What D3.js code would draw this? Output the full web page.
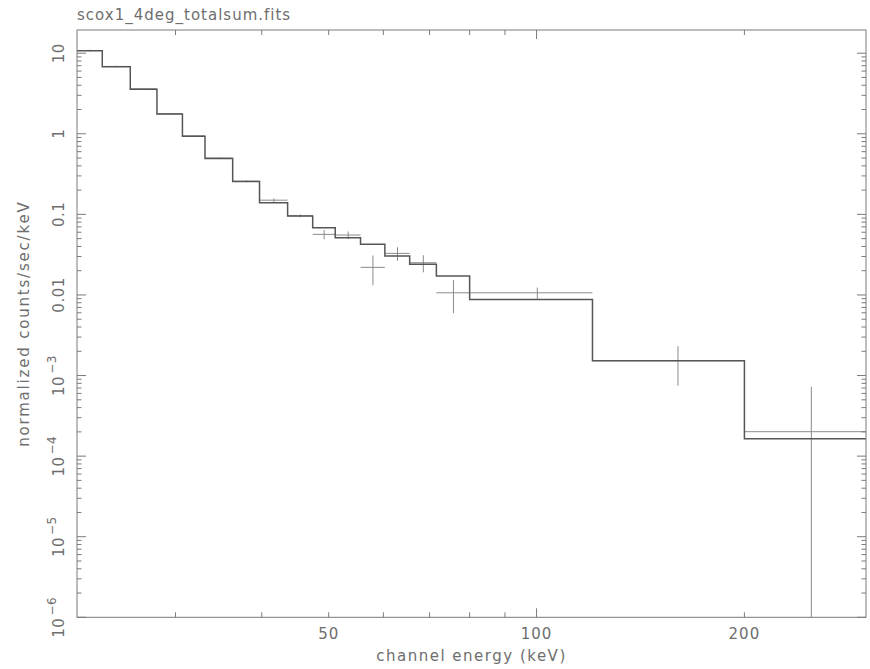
<!DOCTYPE html>
<html>
<head>
<meta charset="utf-8">
<script src="https://cdn.jsdelivr.net/npm/d3@7/dist/d3.min.js"></script>
<style>
  html, body { margin: 0; padding: 0; background: #fff; }
  svg { display: block; }
  text { font-family: "DejaVu Sans", sans-serif; fill: #6e6e6e; }
</style>
</head>
<body>
<svg id="chart" width="870" height="669"></svg>
<script>
// Spectrum: channel bin edges (keV), folded model and measured rates
const binEdges = [21.6, 23.5, 25.8, 28.2, 30.7, 33.1, 36.3, 39.7, 43.6, 47.4,
                  51.1, 55.6, 60.3, 65.5, 71.6, 80.0, 120.5, 200, 300];
const modelValues = [10.7, 6.78, 3.56, 1.755, 0.929, 0.495, 0.256, 0.139, 0.0953,
                     0.0683, 0.0513, 0.0425, 0.0304, 0.0240, 0.0172, 0.00881,
                     0.00153, 0.000164];
const dataValues = [10.8, 6.85, 3.60, 1.77, 0.940, 0.500, 0.258, 0.150, 0.0960,
                    0.0565, 0.0554, 0.0220, 0.0328, 0.0251, 0.01064, 0.01064,
                    0.00153, 0.000201];
const dataErrors = [0.25, 0.15, 0.08, 0.04, 0.022, 0.012, 0.007, 0.008, 0.004,
                    0.0074, 0.006, 0.0088, 0.0063, 0.006, 0.0047, 0.0017,
                    0.00078, 0.000525];

// Axis ticks and labels
const xMinorTicks = [30, 40, 50, 60, 70, 80, 90, 200];
const xMajorTicks = [100];
const xTickLabels = [50, 100, 200];
const yDecades = [-6, -5, -4, -3, -2, -1, 0, 1];
const yTickLabels = ["10^-6", "10^-5", "10^-4", "10^-3", "0.01", "0.1", "1", "10"];

const titleText = "scox1_4deg_totalsum.fits";
const xTitle = "channel energy (keV)";
const yTitle = "normalized counts/sec/keV";

const svg = d3.select("#chart");
const pLeft = 77, pRight = 866, pTop = 30, pBottom = 617.3;

const x = d3.scaleLog().domain([21.6, 300]).range([pLeft, pRight]);
const y = d3.scaleLog().domain([1e-6, 19.4]).range([pBottom, pTop]);

const frameColor = "#7a7a7a";

svg.append("clipPath").attr("id", "plotArea")
  .append("rect").attr("x", pLeft).attr("y", pTop)
  .attr("width", pRight - pLeft).attr("height", pBottom - pTop);

// Bins as records
const bins = modelValues.map((m, i) => ({
  lo: binEdges[i], hi: binEdges[i + 1], model: m,
  data: dataValues[i], err: dataErrors[i]
}));

const plot = svg.append("g").attr("clip-path", "url(#plotArea)");

// Data: horizontal bar over bin width + vertical error bar at bin centre
const dataG = plot.append("g").attr("stroke", "#8a8a8a").attr("stroke-width", 1).attr("fill", "none");
dataG.selectAll("line.h").data(bins).join("line").attr("class", "h")
  .attr("x1", d => x(d.lo)).attr("x2", d => x(d.hi))
  .attr("y1", d => y(d.data)).attr("y2", d => y(d.data));
dataG.selectAll("line.v").data(bins).join("line").attr("class", "v")
  .attr("x1", d => x((d.lo + d.hi) / 2)).attr("x2", d => x((d.lo + d.hi) / 2))
  .attr("y1", d => y(d.data + d.err))
  .attr("y2", d => (d.data - d.err) > 0 ? y(d.data - d.err) : pBottom + 5);

// Model: stepped histogram
const stepPts = [];
bins.forEach(d => { stepPts.push([d.lo, d.model]); stepPts.push([d.hi, d.model]); });
plot.append("path")
  .datum(stepPts)
  .attr("fill", "none").attr("stroke", "#555").attr("stroke-width", 1.5)
  .attr("d", d3.line().x(d => x(d[0])).y(d => y(d[1])));

// Frame
svg.append("rect").attr("x", pLeft).attr("y", pTop)
  .attr("width", pRight - pLeft).attr("height", pBottom - pTop)
  .attr("fill", "none").attr("stroke", frameColor).attr("stroke-width", 1);

const ticks = svg.append("g").attr("stroke", frameColor).attr("stroke-width", 1);

// X ticks, bottom (pointing up) and top (pointing down)
const xTickSet = xMinorTicks.map(v => ({ v, len: 5 })).concat(xMajorTicks.map(v => ({ v, len: 9 })));
ticks.selectAll("line.xb").data(xTickSet).join("line").attr("class", "xb")
  .attr("x1", d => x(d.v)).attr("x2", d => x(d.v))
  .attr("y1", pBottom).attr("y2", d => pBottom - d.len);
ticks.selectAll("line.xt").data(xTickSet).join("line").attr("class", "xt")
  .attr("x1", d => x(d.v)).attr("x2", d => x(d.v))
  .attr("y1", pTop).attr("y2", d => pTop + d.len);

// Y ticks, both sides
const yTickSet = [];
yDecades.forEach(n => {
  yTickSet.push({ v: Math.pow(10, n), len: 9 });
  for (let k = 2; k <= 9; k++) {
    const v = k * Math.pow(10, n);
    if (v < y.domain()[1]) yTickSet.push({ v, len: 4.5 });
  }
});
ticks.selectAll("line.yl").data(yTickSet).join("line").attr("class", "yl")
  .attr("x1", pLeft).attr("x2", d => pLeft + d.len)
  .attr("y1", d => y(d.v)).attr("y2", d => y(d.v));
ticks.selectAll("line.yr").data(yTickSet).join("line").attr("class", "yr")
  .attr("x1", pRight).attr("x2", d => pRight - d.len)
  .attr("y1", d => y(d.v)).attr("y2", d => y(d.v));

// X tick labels
svg.selectAll("text.xl").data(xTickLabels).join("text").attr("class", "xl")
  .attr("x", d => x(d)).attr("y", 639)
  .attr("text-anchor", "middle").attr("font-size", 15)
  .attr("letter-spacing", 1)
  .text(d => d);

// Y tick labels (rotated, with exponents as superscripts)
const ylab = svg.selectAll("text.ylab").data(yDecades).join("text").attr("class", "ylab")
  .attr("transform", d => `translate(63.5,${y(Math.pow(10, d))}) rotate(-90)`)
  .attr("text-anchor", "middle").attr("font-size", 15)
  .attr("letter-spacing", 0.5);
ylab.each(function (d, i) {
  const lab = yTickLabels[i];
  const t = d3.select(this);
  if (lab.includes("^")) {
    const [base, exp] = lab.split("^");
    t.append("tspan").text(base);
    t.append("tspan").attr("dx", 2).attr("dy", "-0.6em").attr("font-size", 12)
      .text(exp.replace("-", "\u2212"));
  } else {
    t.text(lab);
  }
});

// Titles
svg.append("text").attr("x", pLeft).attr("y", 20)
  .attr("font-size", 15).attr("letter-spacing", 1).text(titleText);
svg.append("text").attr("x", (pLeft + pRight) / 2).attr("y", 661)
  .attr("text-anchor", "middle").attr("font-size", 15)
  .attr("letter-spacing", 1.5).text(xTitle);
svg.append("text")
  .attr("transform", `translate(28.5,${(pTop + pBottom) / 2}) rotate(-90)`)
  .attr("text-anchor", "middle").attr("font-size", 15)
  .attr("letter-spacing", 1.8).text(yTitle);
</script>
</body>
</html>
